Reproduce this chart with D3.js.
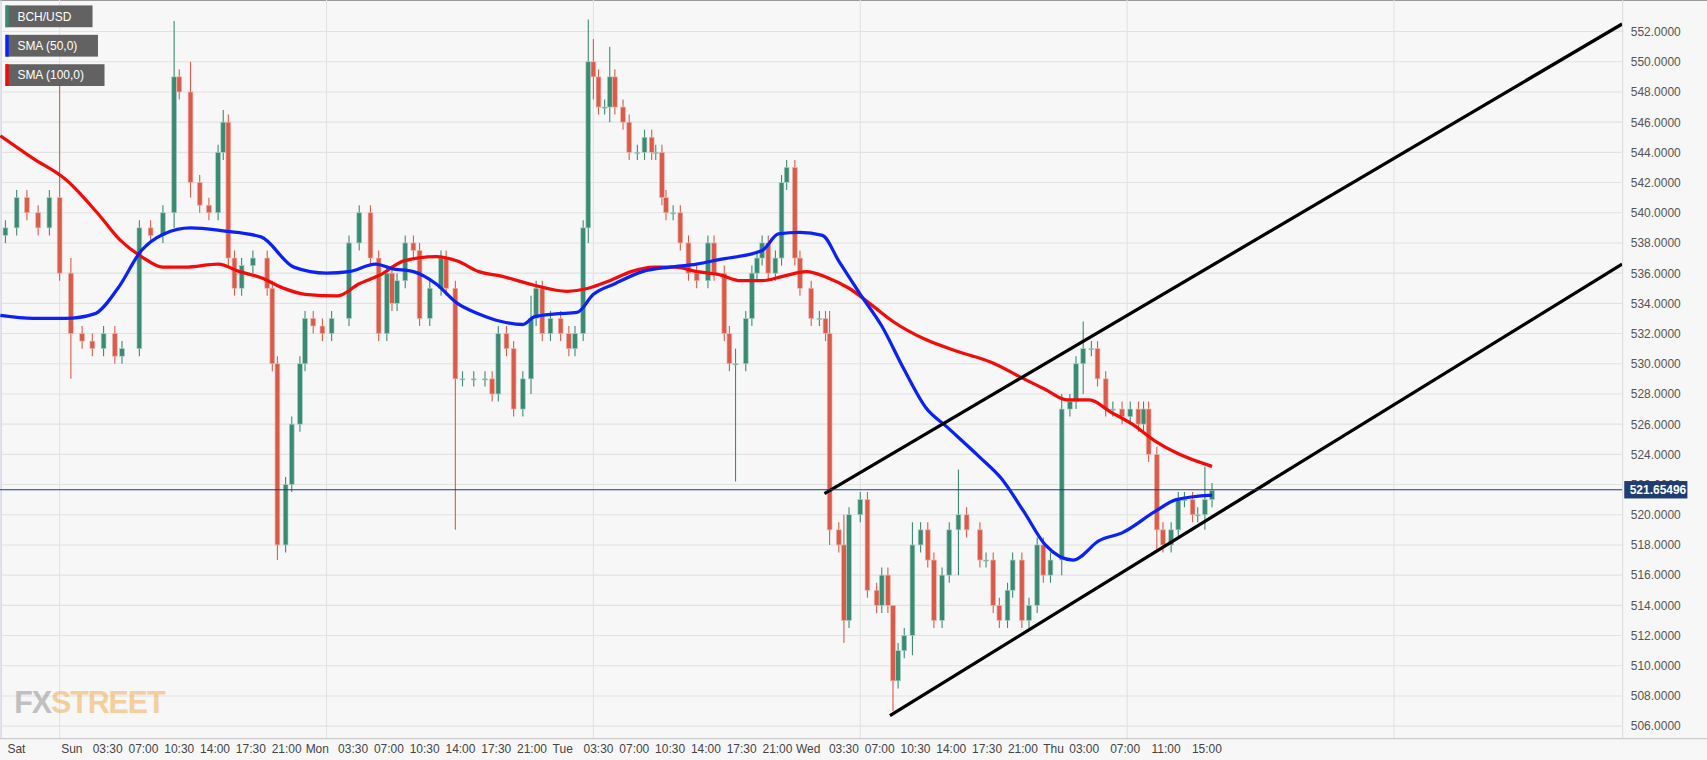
<!DOCTYPE html>
<html>
<head>
<script src="https://d3js.org/d3.v7.min.js"></script>
<style>
  body { margin: 0; background: #fff; }
  text { font-family: "Liberation Sans", Arial, sans-serif; }
</style>
</head>
<body>
<script>
  // candle time in hours from Sun 00:00, close; open = previous close
  var times = [-6.5,-5.4,-4.4,-3.3,-2.2,-1.2,-0.1,1.0,2.0,3.1,4.2,4.9,6.6,7.7,8.9,10.0,10.5,11.6,12.5,13.4,
    14.3,14.8,15.3,15.9,16.6,17.7,19.1,19.6,20.1,20.9,21.5,22.3,22.8,23.6,24.5,25.4,27.1,28.1,29.2,30.0,
    30.8,31.3,31.8,32.6,33.4,34.0,35.0,36.1,36.6,37.5,38.2,39.3,40.4,41.1,41.7,42.5,43.2,44.1,44.9,45.4,
    46.0,46.8,47.8,48.6,49.2,50.0,50.5,51.0,51.5,52.1,52.6,53.1,53.9,54.5,55.3,56.0,56.7,57.1,57.7,58.1,
    58.8,59.5,60.3,61.1,62.2,62.8,63.8,64.3,64.9,65.9,66.5,67.0,67.5,68.1,68.8,69.4,69.9,70.7,71.2,72.3,
    73.1,73.7,74.1,75.0,75.5,76.0,77.1,77.8,78.7,79.2,79.8,80.3,80.8,81.4,82.2,83.0,83.7,84.3,85.1,85.8,
    86.7,87.5,88.8,89.4,90.1,90.7,91.5,92.0,92.9,93.6,94.4,95.0,95.7,96.8,97.6,98.2,98.9,99.7,100.3,101.1,
    101.8,102.7,103.5,104.3,104.8,105.3,106.1,106.7,107.5,108.2,108.8,109.6,110.1,110.8,111.5];
  var closes = [539,541,540,539,541,536,532,531.5,531,532,530.5,531,539,538.5,540,549,548,542,540.5,540,
    544,546,537,535,536.5,537,535,530,518,522,526,530,533,532.5,532,533,538,540,537,532,
    536,534,535.5,538,537.5,533,535,537,535,529,529,529,529,528,532,531,527,529,533,535,
    532,533,532,531,532,539,550,549,547,547,549,547,546,544,544,545,544,544,541,540,
    540,538,536,535.5,538,536,532,530,530,533,536,537,538,536,537,542,543,537,535,533,
    533,532,519,518,513,520,521,515,514,516,514,509,511,512,518,519,517,513,516,519,
    520,519,517,517,514,513,515,517,513,514,518,516,517,527,527.5,530,531,531,529,527,
    527,526.5,527,526,527,524,519,518,519,521,521,520,520,521,521.6];
  var firstOpen = 538.5;
  // long wicks: index -> [high, low]
  var wicks = {5:[548.5,535.5],6:[537,529],15:[552.7,539],17:[550,541],21:[546.8,543.5],28:[530.5,517],
    49:[535.5,519],58:[534.5,528],66:[552.8,538],67:[551.5,547.5],70:[551,546],88:[531,522.2],
    102:[533.5,518],104:[520,511.5],111:[513.5,507],114:[519.5,510.7],120:[523,516],
    133:[528,516],136:[532.8,528],146:[524.5,517.5],153:[523.2,519]};

  // indicator lines, [hour from Sun 00:00, price]
  var sma50 = [[-7,533.2],[-3.8,533],[-0.6,533],[2.2,533.3],[4.5,535],[6.8,537.5],[9,538.6],[11.6,539],
    [14.8,538.8],[18.5,538.4],[21.7,536.4],[24.9,536],[27.1,536.1],[29.7,536.6],[31.3,536.3],[33.4,536.1],
    [35.6,535.3],[37.7,534],[39.8,533.3],[42,532.8],[44.1,532.6],[45.2,533.1],[47.3,533.3],[49.4,533.4],
    [51,534.6],[53.1,535.3],[55.8,536.1],[58.5,536.4],[61.1,536.6],[63.3,536.9],[67.5,537.5],[69.1,538.6],
    [71.2,538.7],[73.4,538.5],[75,536.8],[77.1,534.6],[79.2,532.5],[81.4,529.6],[83.5,527.1],[85.6,525.8],
    [88.8,523.8],[90.9,522.4],[93.1,520.2],[95.2,518],[97.9,517],[100.5,518.3],[102.7,518.8],[105.9,520.2],
    [108,521],[111.5,521.3]];
  var sma100 = [[-7,545.1],[-3.8,543.6],[-0.6,542.2],[2.6,539.9],[4.7,538.2],[6.8,537.1],[8.9,536.4],
    [11.1,536.4],[14.3,536.6],[16.4,536.1],[18.5,535.7],[20.7,535],[22.8,534.6],[26,534.5],[28.1,535.3],
    [30.2,535.9],[32.4,536.8],[35.6,537.1],[37.7,536.8],[39.8,536.1],[42,535.8],[45.2,535.2],[48.4,534.8],
    [50.5,535],[52.6,535.5],[54.7,536.1],[56.9,536.4],[59,536.4],[61.1,536.1],[63.3,535.9],[65.4,535.5],
    [67.5,535.5],[69.6,535.8],[71.8,536.1],[73.9,535.7],[76,535],[78.2,533.9],[80.3,532.8],[83.5,531.6],
    [86.7,530.8],[89.9,530.1],[93.1,529],[95.2,528.3],[97.3,527.6],[99.5,527.6],[101.6,526.8],[103.7,526],
    [105.9,524.9],[108,524.1],[111.5,523.2]];
  var trendLines = [[[73.6,521.4],[151.6,552.5]],[[80,506.7],[151.6,536.6]]];
  var lastPrice = 521.65496;

  var dayTicks = [[-6.3,"Sat"],[0,"Sun"],[3.5,"03:30"],[7,"07:00"],[10.5,"10:30"],[14,"14:00"],[17.5,"17:30"],[21,"21:00"],
    [24,"Mon"],[27.5,"03:30"],[31,"07:00"],[34.5,"10:30"],[38,"14:00"],[41.5,"17:30"],[45,"21:00"],
    [48,"Tue"],[51.5,"03:30"],[55,"07:00"],[58.5,"10:30"],[62,"14:00"],[65.5,"17:30"],[69,"21:00"],
    [72,"Wed"],[75.5,"03:30"],[79,"07:00"],[82.5,"10:30"],[86,"14:00"],[89.5,"17:30"],[93,"21:00"],
    [96,"Thu"],[99,"03:00"],[103,"07:00"],[107,"11:00"],[111,"15:00"]];
  var priceTicks = d3.range(506, 553, 2);

  var W = 1707, H = 760, k = 1707 / 1568, plotR = 1490, plotB = 678;
  var root = d3.select("body").append("svg").attr("width", W).attr("height", H);
  var svg = root.append("g").attr("transform", "scale(" + k + ")");
  svg.append("rect").attr("width", 1568).attr("height", 700).attr("fill", "#f7f7f7");
  svg.append("line").attr("x1", 0).attr("x2", 1568).attr("y1", 0.5).attr("y2", 0.5).attr("stroke", "#999");
  svg.append("line").attr("x1", 1).attr("x2", 1).attr("y1", 0).attr("y2", plotB).attr("stroke", "#c8cce0");

  var x = d3.scaleLinear().domain([-7.03, 151.6]).range([0, plotR]);
  var y = d3.scaleLinear().domain([506, 552]).range([667, 29]);

  // grid
  svg.append("g").selectAll("line").data(priceTicks).join("line")
    .attr("x1", 0).attr("x2", plotR).attr("y1", d => y(d)).attr("y2", d => y(d))
    .attr("stroke", "#e2e2e2");
  svg.append("g").selectAll("line").data(d3.range(-1.2, 151, 26.1)).join("line")
    .attr("x1", d => x(d)).attr("x2", d => x(d)).attr("y1", 0).attr("y2", plotB)
    .attr("stroke", "#e2e2e2");

  // watermark
  var wm = svg.append("text").attr("x", 13).attr("y", 655).attr("font-size", 28).attr("font-weight", "bold")
    .attr("opacity", 0.5).attr("letter-spacing", -1);
  wm.append("tspan").attr("fill", "#8a8a8a").text("FX");
  wm.append("tspan").attr("fill", "#f0a848").text("STREET");

  // candles
  var candles = closes.map(function(c, i) {
    var o = i === 0 ? firstOpen : closes[i - 1];
    var w = wicks[i];
    var hi = w ? w[0] : Math.max(o, c) + 0.5;
    var lo = w ? w[1] : Math.min(o, c) - 0.5;
    return {t: times[i], o: o, c: c, h: hi, l: lo};
  });
  var up = "#3b8a73", dn = "#d95c4b";
  var cg = svg.append("g");
  cg.selectAll("line").data(candles).join("line")
    .attr("x1", d => x(d.t)).attr("x2", d => x(d.t))
    .attr("y1", d => y(d.h)).attr("y2", d => y(d.l))
    .attr("stroke", d => d.c >= d.o ? up : dn);
  cg.selectAll("rect").data(candles).join("rect")
    .attr("x", d => x(d.t) - 2.2).attr("width", 4.4)
    .attr("y", d => y(Math.max(d.o, d.c)))
    .attr("height", d => Math.max(1, Math.abs(y(d.o) - y(d.c))))
    .attr("fill", d => d.c >= d.o ? up : dn)
    .attr("stroke", d => d.c >= d.o ? "#a9cfc2" : "#f0b4aa").attr("stroke-width", 0.6);

  var line = d3.line().x(d => x(d[0])).y(d => y(d[1])).curve(d3.curveMonotoneX);
  svg.append("path").attr("d", line(sma100)).attr("fill", "none").attr("stroke", "#f50a0a").attr("stroke-width", 3);
  svg.append("path").attr("d", line(sma50)).attr("fill", "none").attr("stroke", "#0a22f5").attr("stroke-width", 3);

  svg.append("g").selectAll("line").data(trendLines).join("line")
    .attr("x1", d => x(d[0][0])).attr("y1", d => y(d[0][1]))
    .attr("x2", d => x(d[1][0])).attr("y2", d => y(d[1][1]))
    .attr("stroke", "#000").attr("stroke-width", 3);

  // last price
  svg.append("line").attr("x1", 0).attr("x2", plotR).attr("y1", y(lastPrice)).attr("y2", y(lastPrice))
    .attr("stroke", "#1f3d73").attr("stroke-width", 1);

  // right axis
  svg.append("line").attr("x1", plotR + 0.5).attr("x2", plotR + 0.5).attr("y1", 0).attr("y2", plotB).attr("stroke", "#ddd");
  svg.append("g").selectAll("text").data(priceTicks).join("text")
    .attr("x", 1498).attr("y", d => y(d) + 4).attr("font-size", 11).attr("fill", "#555")
    .text(d => d.toFixed(4));
  svg.append("rect").attr("x", 1492).attr("y", y(lastPrice) - 8).attr("width", 58).attr("height", 16).attr("fill", "#1f3d73");
  svg.append("text").attr("x", 1497).attr("y", y(lastPrice) + 4).attr("font-size", 11).attr("font-weight", "bold")
    .attr("fill", "#fff").text(lastPrice.toFixed(5));

  // bottom axis
  svg.append("line").attr("x1", 0).attr("x2", 1568).attr("y1", plotB + 0.5).attr("y2", plotB + 0.5).attr("stroke", "#ccc");
  svg.append("g").selectAll("text").data(dayTicks).join("text")
    .attr("x", d => x(d[0])).attr("y", 692).attr("font-size", 11).attr("fill", "#444")
    .attr("text-anchor", d => d[1] === "Sat" ? "start" : "middle")
    .text(d => d[1]);

  // legend
  var legend = [["BCH/USD", "#3b8a73", 80], ["SMA (50,0)", "#0a22f5", 85], ["SMA (100,0)", "#f50a0a", 91]];
  var lg = svg.append("g").selectAll("g").data(legend).join("g")
    .attr("transform", (d, i) => "translate(5," + (5 + i * 27) + ")");
  lg.append("rect").attr("width", d => d[2]).attr("height", 20).attr("fill", "#555").attr("opacity", 0.92);
  lg.append("rect").attr("width", 3).attr("height", 20).attr("fill", d => d[1]);
  lg.append("text").attr("x", 11).attr("y", 14).attr("font-size", 11).attr("fill", "#fff").text(d => d[0]);
</script>
</body>
</html>
